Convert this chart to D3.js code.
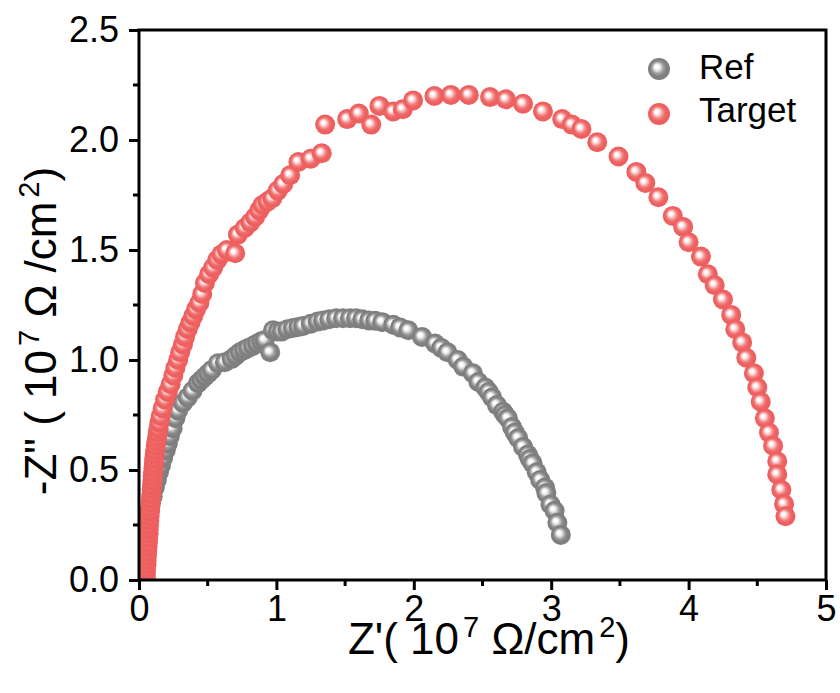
<!DOCTYPE html>
<html>
<head>
<meta charset="utf-8">
<script src="https://cdn.jsdelivr.net/npm/d3@7"></script>
<style>
  body { margin: 0; background: #fff; }
  text { font-family: "Liberation Sans", Arial, sans-serif; }
</style>
</head>
<body>
<div id="chart"></div>
<script>
// Z' , -Z'' pairs (10^7 ohm/cm2)
const refData = [
  [0.036,0.01],[0.044,0.045],[0.05,0.08],[0.05,0.115],[0.058,0.15],[0.058,0.18],[0.065,0.22],[0.065,0.25],
  [0.073,0.28],[0.08,0.32],[0.087,0.35],[0.1,0.38],[0.115,0.42],[0.13,0.455],[0.145,0.49],[0.16,0.52],
  [0.175,0.555],[0.195,0.59],[0.21,0.62],[0.225,0.655],[0.245,0.69],[0.265,0.735],[0.285,0.77],[0.32,0.805],
  [0.355,0.83],[0.39,0.86],[0.43,0.895],[0.455,0.91],[0.48,0.925],[0.505,0.94],[0.53,0.955],[0.575,0.985],
  [0.625,0.99],[0.675,1.005],[0.705,1.02],[0.735,1.035],[0.765,1.045],[0.795,1.055],[0.83,1.065],[0.86,1.075],
  [0.89,1.085],[0.915,1.09],[0.955,1.035],[0.975,1.135],[1.01,1.13],[1.04,1.13],[1.08,1.14],[1.12,1.145],
  [1.16,1.15],[1.195,1.155],[1.25,1.165],[1.3,1.175],[1.34,1.18],[1.385,1.185],[1.435,1.19],[1.485,1.19],
  [1.535,1.19],[1.58,1.19],[1.625,1.185],[1.675,1.18],[1.72,1.178],[1.77,1.172],[1.85,1.16],[1.9,1.148],
  [1.96,1.135],[2.06,1.105],[2.155,1.075],[2.2,1.055],[2.245,1.035],[2.32,1.0],[2.36,0.97],[2.43,0.94],
  [2.47,0.9],[2.52,0.875],[2.545,0.855],[2.57,0.83],[2.605,0.795],[2.65,0.765],[2.665,0.75],[2.685,0.735],
  [2.715,0.695],[2.735,0.67],[2.76,0.645],[2.795,0.605],[2.83,0.57],[2.845,0.55],[2.865,0.53],[2.895,0.49],
  [2.92,0.455],[2.955,0.42],[2.965,0.395],[2.995,0.343],[3.025,0.315],[3.045,0.26],[3.07,0.205]
];

const targetData = [
  [0.05,0.01],[0.05,0.03],[0.052,0.05],[0.055,0.07],[0.055,0.09],[0.058,0.11],[0.06,0.13],[0.062,0.15],
  [0.065,0.17],[0.066,0.19],[0.07,0.21],[0.071,0.23],[0.073,0.25],[0.075,0.27],[0.077,0.29],[0.08,0.31],
  [0.082,0.33],[0.085,0.35],[0.087,0.37],[0.09,0.39],[0.092,0.41],[0.095,0.43],[0.097,0.45],[0.1,0.47],
  [0.102,0.49],[0.105,0.51],[0.108,0.53],[0.11,0.55],[0.115,0.57],[0.118,0.59],[0.122,0.61],[0.127,0.63],
  [0.132,0.65],[0.137,0.67],[0.142,0.69],[0.148,0.715],[0.158,0.745],[0.172,0.78],[0.19,0.82],[0.21,0.855],
  [0.23,0.89],[0.25,0.93],[0.265,0.965],[0.285,1.0],[0.3,1.035],[0.32,1.07],[0.335,1.105],[0.355,1.14],
  [0.375,1.17],[0.395,1.2],[0.415,1.23],[0.44,1.26],[0.46,1.3],[0.48,1.35],[0.51,1.39],[0.54,1.42],
  [0.57,1.455],[0.6,1.48],[0.64,1.5],[0.7,1.485],[0.72,1.57],[0.77,1.6],[0.81,1.625],[0.845,1.65],
  [0.875,1.68],[0.9,1.705],[0.935,1.72],[0.97,1.735],[1.01,1.77],[1.05,1.8],[1.1,1.84],[1.16,1.9],
  [1.25,1.915],[1.33,1.94],[1.355,2.07],[1.515,2.095],[1.6,2.12],[1.69,2.07],[1.75,2.155],[1.85,2.13],
  [1.92,2.14],[1.995,2.18],[2.15,2.2],[2.27,2.205],[2.4,2.205],[2.555,2.195],[2.67,2.185],[2.795,2.165],
  [2.94,2.13],[3.08,2.095],[3.15,2.07],[3.22,2.05],[3.335,1.99],[3.49,1.925],[3.62,1.855],[3.685,1.805],
  [3.78,1.74],[3.885,1.655],[3.96,1.605],[4.0,1.535],[4.09,1.47],[4.14,1.39],[4.19,1.34],[4.25,1.275],
  [4.31,1.205],[4.34,1.14],[4.39,1.08],[4.42,1.01],[4.475,0.94],[4.5,0.875],[4.525,0.81],[4.555,0.735],
  [4.585,0.67],[4.615,0.61],[4.645,0.54],[4.645,0.48],[4.675,0.41],[4.695,0.345],[4.705,0.29]
];

const series = [
  {name: "Ref", values: refData, base: "#7f7f7f", mid: "#9a9a9a", light: "#e6e6e6"},
  {name: "Target", values: targetData, base: "#ee5f5f", mid: "#f07a7a", light: "#fbd3d3"}
];
const xTicks = [0, 1, 2, 3, 4, 5];
const yTicks = [0.0, 0.5, 1.0, 1.5, 2.0, 2.5];

const width = 840, height = 693;
const margin = {top: 30, right: 14, bottom: 113, left: 139};

const svg = d3.select("#chart").append("svg")
    .attr("width", width)
    .attr("height", height);

const x = d3.scaleLinear().domain([0, 5]).range([margin.left, width - margin.right]);
const y = d3.scaleLinear().domain([0, 2.5]).range([height - margin.bottom, margin.top]);

const defs = svg.append("defs");
series.forEach(function(s) {
    const g = defs.append("radialGradient")
        .attr("id", "ball-" + s.name)
        .attr("cx", "50%").attr("cy", "50%").attr("r", "50%")
        .attr("fx", "38%").attr("fy", "38%");
    g.append("stop").attr("offset", "0%").attr("stop-color", "#ffffff");
    g.append("stop").attr("offset", "14%").attr("stop-color", "#ffffff");
    g.append("stop").attr("offset", "30%").attr("stop-color", s.light);
    g.append("stop").attr("offset", "55%").attr("stop-color", s.mid);
    g.append("stop").attr("offset", "75%").attr("stop-color", s.base);
    g.append("stop").attr("offset", "100%").attr("stop-color", s.base);
});

defs.append("clipPath").attr("id", "plot-clip")
  .append("rect")
    .attr("x", x(0)).attr("y", y(2.5))
    .attr("width", x(5) - x(0)).attr("height", y(0) - y(2.5));

// points
const plot = svg.append("g").attr("clip-path", "url(#plot-clip)");
series.forEach(function(s) {
    plot.append("g")
      .selectAll("circle")
      .data(s.values)
      .join("circle")
        .attr("cx", d => x(d[0]))
        .attr("cy", d => y(d[1]))
        .attr("r", 10)
        .attr("fill", "url(#ball-" + s.name + ")");
});

// axes
const xAxis = svg.append("g")
    .attr("transform", "translate(0," + y(0) + ")")
    .call(d3.axisBottom(x).tickValues(xTicks).tickFormat(d3.format("d")).tickSize(10).tickPadding(5));
const yAxis = svg.append("g")
    .attr("transform", "translate(" + x(0) + ",0)")
    .call(d3.axisLeft(y).tickValues(yTicks).tickFormat(d3.format(".1f")).tickSize(10).tickPadding(10));

[xAxis, yAxis].forEach(function(a) {
    a.select(".domain").remove();
    a.selectAll(".tick line").attr("stroke", "#000").attr("stroke-width", 3);
    a.selectAll(".tick text")
        .attr("fill", "#000")
        .style("font-size", "36px")
        .style("font-family", "'Liberation Sans', Arial, sans-serif");
});

// minor ticks
svg.append("g").selectAll("line")
    .data([0.5, 1.5, 2.5, 3.5, 4.5])
    .join("line")
    .attr("x1", d => x(d)).attr("x2", d => x(d))
    .attr("y1", y(0)).attr("y2", y(0) + 6)
    .attr("stroke", "#000").attr("stroke-width", 3);
svg.append("g").selectAll("line")
    .data([0.25, 0.75, 1.25, 1.75, 2.25])
    .join("line")
    .attr("y1", d => y(d)).attr("y2", d => y(d))
    .attr("x1", x(0)).attr("x2", x(0) - 6)
    .attr("stroke", "#000").attr("stroke-width", 3);

// frame
svg.append("rect")
    .attr("x", x(0)).attr("y", y(2.5))
    .attr("width", x(5) - x(0)).attr("height", y(0) - y(2.5))
    .attr("fill", "none")
    .attr("stroke", "#000")
    .attr("stroke-width", 3);

// axis titles
function addTitle(sel, first, mid) {
    sel.append("tspan").text(first);
    sel.append("tspan").attr("dx", 4).attr("dy", -17).style("font-size", "29px").text("7");
    sel.append("tspan").attr("dy", 17).text(mid);
    sel.append("tspan").attr("dx", 4).attr("dy", -17).style("font-size", "29px").text("2");
    sel.append("tspan").attr("dy", 17).text(")");
}

const xt = svg.append("text")
    .attr("x", 489).attr("y", 654)
    .attr("text-anchor", "middle")
    .style("font-size", "44px");
addTitle(xt, "Z'( 10", " \u03A9/cm");

const yt = svg.append("text")
    .attr("transform", "translate(56,331) rotate(-90)")
    .attr("text-anchor", "middle")
    .style("font-size", "44px");
addTitle(yt, "-Z\" ( 10", " \u03A9 /cm");

// legend
const legend = svg.append("g");
series.forEach(function(s, i) {
    legend.append("circle")
        .attr("cx", 659).attr("cy", 69 + i * 45)
        .attr("r", 11)
        .attr("fill", "url(#ball-" + s.name + ")");
    legend.append("text")
        .attr("x", 699).attr("y", 79 + i * 43)
        .style("font-size", "35px")
        .text(s.name);
});
</script>
</body>
</html>
